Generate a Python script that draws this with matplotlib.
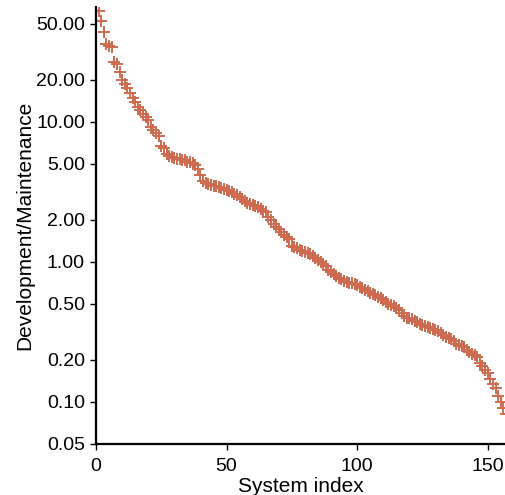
import numpy as np
import matplotlib
matplotlib.use('Agg')
import matplotlib.pyplot as plt
from matplotlib.ticker import FixedLocator, FixedFormatter, NullLocator

# ratio of development to maintenance effort, sorted descending
ratio = [
    62, 52, 44, 36, 35, 34, 26.5, 26, 22.5, 20,
    18.5, 17.3, 16, 14.7, 13.9, 12.8, 12.2, 11.3, 10.9, 10.3,
    9.2, 8.7, 8.3, 7.9, 6.7, 6.5, 5.9, 5.7, 5.6, 5.5,
    5.45, 5.4, 5.35, 5.3, 5.2, 5.15, 5.05, 4.9, 4.6, 4.2,
    3.8, 3.65, 3.6, 3.55, 3.5, 3.45, 3.4, 3.35, 3.3, 3.25,
    3.2, 3.15, 3.05, 3.0, 2.9, 2.8, 2.7, 2.65, 2.6, 2.55,
    2.5, 2.45, 2.4, 2.3, 2.25, 2.1, 2.0, 1.85, 1.78, 1.72,
    1.62, 1.55, 1.5, 1.45, 1.3, 1.28, 1.25, 1.22, 1.2, 1.17,
    1.15, 1.13, 1.1, 1.07, 1.03, 1.0, 0.97, 0.93, 0.88, 0.85,
    0.82, 0.79, 0.77, 0.75, 0.73, 0.72, 0.71, 0.7, 0.69, 0.68,
    0.66, 0.65, 0.63, 0.62, 0.6, 0.59, 0.58, 0.56, 0.55, 0.53,
    0.52, 0.5, 0.49, 0.48, 0.47, 0.45, 0.43, 0.41, 0.40, 0.395,
    0.39, 0.38, 0.37, 0.36, 0.355, 0.35, 0.34, 0.335, 0.33, 0.325,
    0.32, 0.31, 0.30, 0.29, 0.285, 0.28, 0.27, 0.26, 0.255, 0.25,
    0.245, 0.235, 0.228, 0.22, 0.215, 0.21, 0.19, 0.18, 0.17, 0.16,
    0.145, 0.135, 0.125, 0.11, 0.10, 0.09, 0.082,
]
system_index = list(range(1, len(ratio) + 1))

yticks = [0.05, 0.1, 0.2, 0.5, 1, 2, 5, 10, 20, 50]
ytick_labels = ['%.2f' % t for t in yticks]
xticks = [0, 50, 100, 150]

plt.rcParams['font.family'] = ['Liberation Sans', 'DejaVu Sans']

fig = plt.figure(figsize=(5.06, 4.95), dpi=100)
ax = fig.add_axes([96/506, 1 - 444/495, 1 - 96/506, (444 - 7)/495])

ax.plot(system_index, ratio, linestyle='none', marker='+', markersize=8,
        markeredgewidth=1.4, color='#cd6a4f')

ax.set_yscale('log')
ax.set_ylim(0.05, 66)
ax.set_xlim(0, 157)

ax.yaxis.set_major_locator(FixedLocator(yticks))
ax.yaxis.set_major_formatter(FixedFormatter(ytick_labels))
ax.yaxis.set_minor_locator(NullLocator())
ax.set_xticks(xticks)

ax.spines['top'].set_visible(False)
ax.spines['right'].set_visible(False)
ax.spines['left'].set_linewidth(1.6)
ax.spines['bottom'].set_linewidth(1.6)
ax.tick_params(axis='x', labelsize=14, length=4, width=1, pad=6)
ax.tick_params(axis='y', labelsize=14, length=4, width=1, pad=4)

ax.set_xlabel('System index', fontsize=15, labelpad=1.5)
ax.set_ylabel('Development/Maintenance', fontsize=15)
ax.yaxis.set_label_coords(-0.151, 0.5)

fig.savefig('out.png', dpi=100)
